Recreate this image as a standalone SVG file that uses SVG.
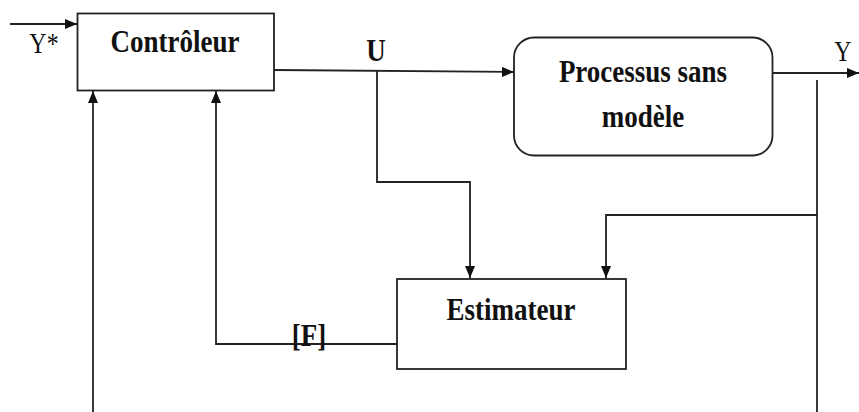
<svg xmlns="http://www.w3.org/2000/svg" width="859" height="412" viewBox="0 0 859 412">
<defs>
<marker id="arr" viewBox="0 0 12 10" refX="12" refY="5" markerWidth="12" markerHeight="10" markerUnits="userSpaceOnUse" orient="auto">
<path d="M0,0 L12,5 L0,10 Z" fill="#111"/>
</marker>
<style>
.box{fill:#fff;stroke:#222;stroke-width:1.8}
.ln{fill:none;stroke:#222;stroke-width:1.8}
.b{font-family:"Liberation Serif","Times New Roman",serif;font-weight:bold;font-size:27px;fill:#111;text-anchor:middle}
.r{font-family:"Liberation Serif","Times New Roman",serif;font-size:24px;fill:#111;text-anchor:middle}
</style>
</defs>
<rect width="859" height="412" fill="#fff"/>
<g id="connectors">
<line class="ln" x1="10" y1="24" x2="77" y2="24" marker-end="url(#arr)"/>
<line class="ln" x1="274" y1="70" x2="514" y2="72" marker-end="url(#arr)"/>
<polyline class="ln" points="377,71 377,182 470,182 470,278" marker-end="url(#arr)"/>
<line class="ln" x1="773" y1="73" x2="859" y2="73" marker-end="url(#arr)"/>
<line class="ln" x1="817" y1="80" x2="817" y2="412"/>
<polyline class="ln" points="817,215 606,215 606,278" marker-end="url(#arr)"/>
<polyline class="ln" points="397,344 216,344 216,91" marker-end="url(#arr)"/>
<line class="ln" x1="93" y1="412" x2="93" y2="91" marker-end="url(#arr)"/>
<text class="r" transform="translate(44,53) scale(1,1.2)">Y*</text>
<text class="b" transform="translate(376,61) scale(1,1.2)">U</text>
<text class="r" transform="translate(843,61) scale(1,1.2)">Y</text>
<text class="b" transform="translate(309,346) scale(1,1.2)">[F]</text>
</g>
<g id="controleur">
<rect class="box" x="77.5" y="13.5" width="196.5" height="77"/>
<text class="b" transform="translate(175,52) scale(1,1.2)">Contrôleur</text>
</g>
<g id="processus">
<rect class="box" x="514" y="37.5" width="258.5" height="118" rx="20" ry="20"/>
<text class="b" transform="translate(643,82) scale(1,1.2)">Processus sans</text>
<text class="b" transform="translate(643,127) scale(1,1.2)">modèle</text>
</g>
<g id="estimateur">
<rect class="box" x="397" y="279" width="229" height="90"/>
<text class="b" transform="translate(511,320) scale(1,1.2)">Estimateur</text>
</g>
</svg>
